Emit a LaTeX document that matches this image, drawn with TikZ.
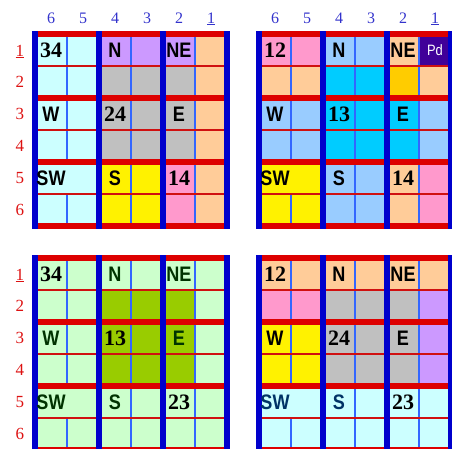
\documentclass[tikz,border=0pt]{standalone}
\usepackage{fontspec}
\setmainfont{Liberation Serif}
\newfontfamily\cellsans[FakeStretch=0.86]{Liberation Sans}
\usepackage{xcolor}
\usepackage{tikz}
\definecolor{barblue}{HTML}{0000CC}
\definecolor{barred}{HTML}{DD0000}
\definecolor{lineblue}{HTML}{3366FF}
\definecolor{linered}{HTML}{D01010}
\definecolor{colblue}{HTML}{3333CC}
\definecolor{rowred}{HTML}{DD1111}
\definecolor{lightcyan}{HTML}{CCFFFF}
\definecolor{violet}{HTML}{CC99FF}
\definecolor{midgray}{HTML}{C0C0C0}
\definecolor{lemon}{HTML}{FFF200}
\definecolor{pink}{HTML}{FF99CC}
\definecolor{peach}{HTML}{FFCC99}
\definecolor{skyblue}{HTML}{99CCFF}
\definecolor{cyanblue}{HTML}{00CCFF}
\definecolor{gold}{HTML}{FFCC00}
\definecolor{deeppurple}{HTML}{400099}
\definecolor{mint}{HTML}{CCFFCC}
\definecolor{olive}{HTML}{99CC00}
\definecolor{darkgreen}{HTML}{003300}
\definecolor{navy}{HTML}{003366}

% the bars and thin lines of one 6x6 board
\newcommand{\boardlines}{%
  \draw[thinblue] (1,0) -- (1,4) (1,5) -- (1,6) (3,0) -- (3,6) (5,0) -- (5,6);
  \foreach \gy in {1,3,5}
    \draw[thinred] (0,\gy) -- (6,\gy);
  \foreach \gy in {0,2,4,6}
    \draw[thickred] (0,\gy) -- (6,\gy);
  \foreach \gx in {0,2,4,6}
    \draw[thickblue] (\gx,0) -- (\gx,6);
}

\begin{document}
\begin{tikzpicture}[x=1pt, y=-1pt,
  thinblue/.style={draw=lineblue, line width=2pt},
  thinred/.style={draw=linered, line width=2pt},
  thickred/.style={draw=barred, line width=6pt, line cap=rect},
  thickblue/.style={draw=barblue, line width=6pt, line cap=rect},
  numlbl/.style={font=\fontsize{22}{22}\selectfont\bfseries, inner sep=0pt},
  dirlbl/.style={font=\fontsize{21}{21}\selectfont\cellsans\bfseries, inner sep=0pt},
  collbl/.style={font=\fontsize{16}{16}\selectfont, text=colblue, inner sep=0pt},
  rowlbl/.style={font=\fontsize{17}{17}\selectfont, text=rowred, inner sep=0pt}]
  \useasboundingbox (0,0) rectangle (452,449);
  \clip (0,0) rectangle (452,449);

  % top left board
  \begin{scope}[shift={(35,34)}, x=32pt, y=-32pt]
    \fill[lightcyan] (0,0) rectangle (2,6);
    \fill[violet] (2,0) rectangle (5,1);
    \fill[midgray] (2,1) rectangle (5,4);
    \fill[lemon] (2,4) rectangle (4,6);
    \fill[pink] (4,4) rectangle (5,6);
    \fill[peach] (5,0) rectangle (6,6);
    \boardlines
    \foreach \c in {0,...,4}
      \node[collbl] (tl-col\c) at (\c+.5,-.5) {\pgfmathparse{int(6-\c)}\pgfmathresult};
    \node[collbl] (tl-col5) at (5.5,-.47) {\underline{1}};
    \node[rowlbl] (tl-row0) at (-.47,.55) {\underline{1}};
    \foreach \r in {1,...,5}
      \node[rowlbl] (tl-row\r) at (-.47,\r+.5) {\pgfmathparse{int(\r+1)}\pgfmathresult};
    \node[numlbl] (tl-34) at (.5,.5) {34};
    \node[dirlbl] (tl-n) at (2.5,.5) {N};
    \node[dirlbl] (tl-ne) at (4.5,.5) {NE};
    \node[dirlbl] (tl-w) at (.5,2.5) {W};
    \node[numlbl] (tl-24) at (2.5,2.5) {24};
    \node[dirlbl] (tl-e) at (4.5,2.5) {E};
    \node[dirlbl] (tl-sw) at (.5,4.5) {SW};
    \node[dirlbl] (tl-s) at (2.5,4.5) {S};
    \node[numlbl] (tl-14) at (4.5,4.5) {14};
  \end{scope}

  % top right board
  \begin{scope}[shift={(259,34)}, x=32pt, y=-32pt]
    \fill[pink] (0,0) rectangle (2,1);
    \fill[skyblue] (2,0) rectangle (4,1);
    \fill[peach] (4,0) rectangle (5,1);
    \fill[deeppurple] (5,0) rectangle (6,1);
    \fill[peach] (0,1) rectangle (2,2);
    \fill[cyanblue] (2,1) rectangle (5,4);
    \fill[gold] (4,1) rectangle (5,2);
    \fill[peach] (5,1) rectangle (6,2);
    \fill[skyblue] (0,2) rectangle (2,4);
    \fill[skyblue] (5,2) rectangle (6,4);
    \fill[lemon] (0,4) rectangle (2,6);
    \fill[skyblue] (2,4) rectangle (4,6);
    \fill[peach] (4,4) rectangle (5,6);
    \fill[pink] (5,4) rectangle (6,6);
    \boardlines
    \foreach \c in {0,...,4}
      \node[collbl] (tr-col\c) at (\c+.5,-.5) {\pgfmathparse{int(6-\c)}\pgfmathresult};
    \node[collbl] (tr-col5) at (5.5,-.47) {\underline{1}};
    \node[numlbl] (tr-12) at (.5,.5) {12};
    \node[dirlbl] (tr-n) at (2.5,.5) {N};
    \node[dirlbl] (tr-ne) at (4.5,.5) {NE};
    \node[font=\fontsize{15}{15}\selectfont\cellsans, text=white, inner sep=0pt] (tr-pd) at (5.5,.5) {Pd};
    \node[dirlbl] (tr-w) at (.5,2.5) {W};
    \node[numlbl] (tr-13) at (2.5,2.5) {13};
    \node[dirlbl] (tr-e) at (4.5,2.5) {E};
    \node[dirlbl] (tr-sw) at (.5,4.5) {SW};
    \node[dirlbl] (tr-s) at (2.5,4.5) {S};
    \node[numlbl] (tr-14) at (4.5,4.5) {14};
  \end{scope}

  % bottom left board
  \begin{scope}[shift={(35,258)}, x=32pt, y=-32pt]
    \fill[mint] (0,0) rectangle (6,6);
    \fill[olive] (2,1) rectangle (5,4);
    \boardlines
    \node[rowlbl] (bl-row0) at (-.47,.55) {\underline{1}};
    \foreach \r in {1,...,5}
      \node[rowlbl] (bl-row\r) at (-.47,\r+.5) {\pgfmathparse{int(\r+1)}\pgfmathresult};
    \node[numlbl] (bl-34) at (.5,.5) {34};
    \node[dirlbl, text=darkgreen] (bl-n) at (2.5,.5) {N};
    \node[dirlbl, text=darkgreen] (bl-ne) at (4.5,.5) {NE};
    \node[dirlbl, text=darkgreen] (bl-w) at (.5,2.5) {W};
    \node[numlbl] (bl-13) at (2.5,2.5) {13};
    \node[dirlbl, text=darkgreen] (bl-e) at (4.5,2.5) {E};
    \node[dirlbl, text=darkgreen] (bl-sw) at (.5,4.5) {SW};
    \node[dirlbl, text=darkgreen] (bl-s) at (2.5,4.5) {S};
    \node[numlbl] (bl-23) at (4.5,4.5) {23};
  \end{scope}

  % bottom right board
  \begin{scope}[shift={(259,258)}, x=32pt, y=-32pt]
    \fill[peach] (0,0) rectangle (6,1);
    \fill[pink] (0,1) rectangle (2,2);
    \fill[midgray] (2,1) rectangle (5,4);
    \fill[violet] (5,1) rectangle (6,4);
    \fill[lemon] (0,2) rectangle (2,4);
    \fill[lightcyan] (0,4) rectangle (6,6);
    \boardlines
    \node[numlbl] (br-12) at (.5,.5) {12};
    \node[dirlbl] (br-n) at (2.5,.5) {N};
    \node[dirlbl] (br-ne) at (4.5,.5) {NE};
    \node[dirlbl] (br-w) at (.5,2.5) {W};
    \node[numlbl] (br-24) at (2.5,2.5) {24};
    \node[dirlbl] (br-e) at (4.5,2.5) {E};
    \node[dirlbl, text=navy] (br-sw) at (.5,4.5) {SW};
    \node[dirlbl, text=navy] (br-s) at (2.5,4.5) {S};
    \node[numlbl] (br-23) at (4.5,4.5) {23};
  \end{scope}
\end{tikzpicture}
\end{document}
